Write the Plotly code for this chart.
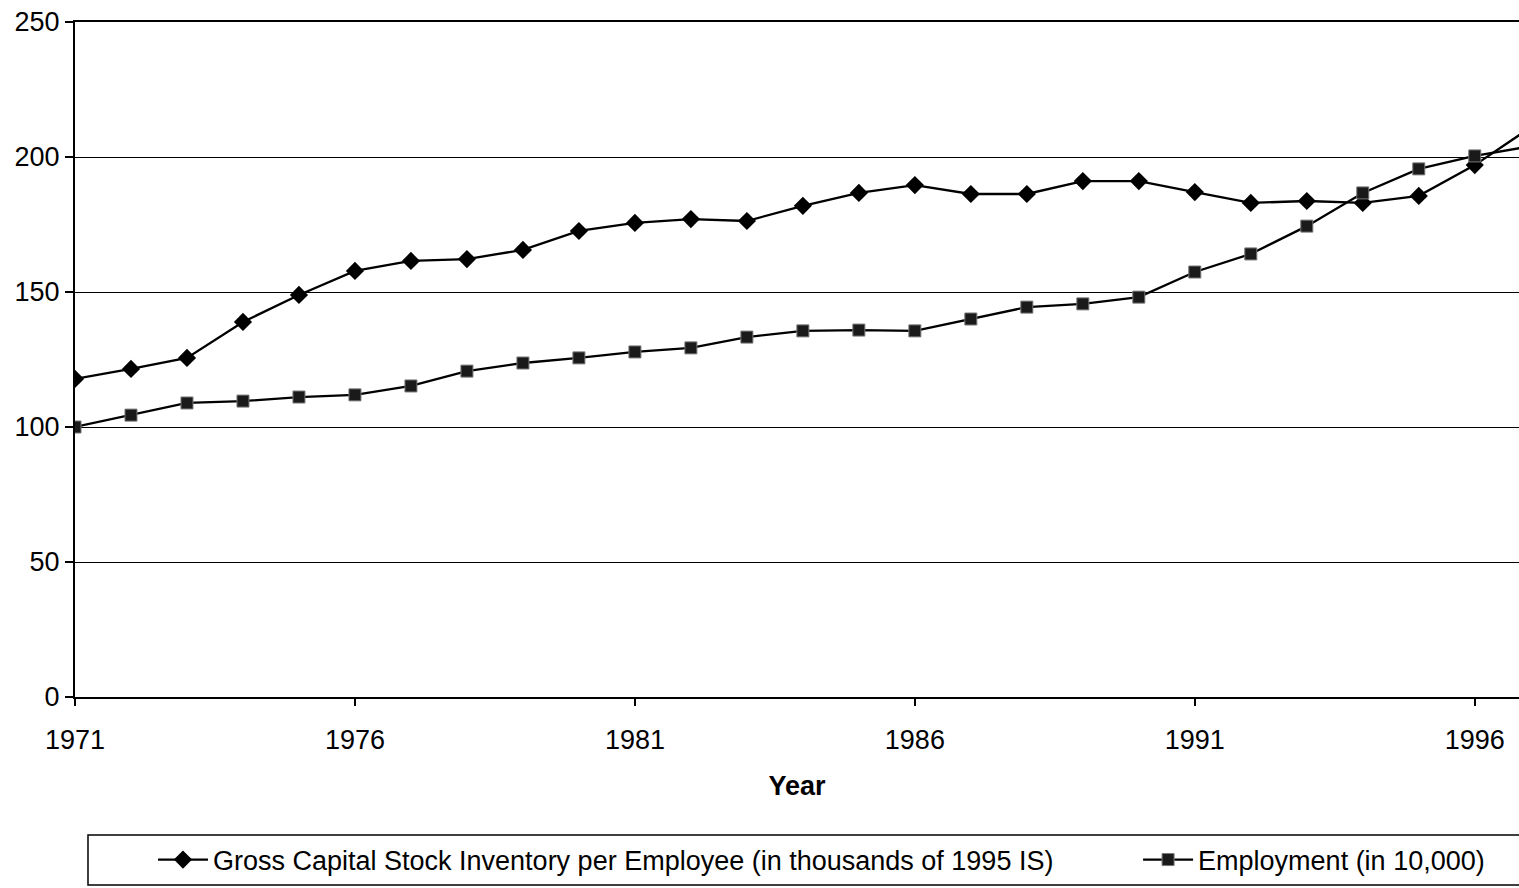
import plotly.graph_objects as go

years = list(range(1971, 1998))
capital = [117.8, 121.5, 125.6, 138.9, 148.9, 157.8, 161.5, 162.2, 165.6, 172.6,
           175.6, 177.0, 176.3, 181.9, 186.7, 189.6, 186.3, 186.3, 191.1, 191.1,
           187.0, 183.0, 183.7, 183.0, 185.6, 197.0, 211.0]
employment = [100.0, 104.4, 108.9, 109.6, 111.1, 111.9, 115.2, 120.7, 123.7, 125.6,
              127.8, 129.3, 133.3, 135.6, 135.9, 135.6, 140.0, 144.4, 145.6, 148.1,
              157.4, 164.1, 174.4, 186.7, 195.6, 200.4, 204.0]
name_cap = "Gross Capital Stock Inventory per Employee (in thousands of 1995 IS)"
name_emp = "Employment (in 10,000)"

font = "Liberation Sans, Arial, sans-serif"
fs = 27

fig = go.Figure()
fig.add_trace(go.Scatter(
    x=years, y=capital, name=name_cap, mode="lines+markers",
    line=dict(color="black", width=2.3),
    marker=dict(symbol="diamond", size=14, color="black"),
    legend="legend",
))
fig.add_trace(go.Scatter(
    x=years, y=employment, name=name_emp, mode="lines+markers",
    line=dict(color="black", width=2.3),
    marker=dict(symbol="square", size=12, color="#1a1a1a", line=dict(color="#777", width=1)),
    legend="legend2",
))

leg_common = dict(orientation="h", yanchor="middle", xanchor="left",
                  font=dict(family=font, size=fs, color="black"),
                  bgcolor="rgba(0,0,0,0)", borderwidth=0, itemwidth=50)

fig.update_layout(
    width=1519, height=888,
    margin=dict(l=75, r=0, t=22, b=191, autoexpand=False),
    paper_bgcolor="white", plot_bgcolor="white",
    font=dict(family=font, size=fs, color="black"),
    showlegend=True,
    legend=dict(x=0.0540, y=-0.2415, **leg_common),
    legend2=dict(x=0.7362, y=-0.2415, **leg_common),
    shapes=[dict(type="rect", xref="paper", yref="paper",
                 x0=0.009, x1=1.02, y0=-0.2785, y1=-0.2044,
                 line=dict(color="black", width=1.5), fillcolor="rgba(0,0,0,0)")],
)

fig.update_xaxes(
    range=[1971, 1996.79], tickmode="array", tickvals=[1971, 1976, 1981, 1986, 1991, 1996],
    ticks="outside", ticklen=7, tickwidth=1.5, tickcolor="black", ticklabelstandoff=11,
    showline=True, linecolor="black", linewidth=2, mirror=True,
    showgrid=False, zeroline=False,
    tickfont=dict(size=fs), title=dict(text="<b>Year</b>", font=dict(size=fs), standoff=22),
)
fig.update_yaxes(
    range=[0, 250], tickvals=[0, 50, 100, 150, 200, 250],
    ticks="outside", ticklen=8, tickwidth=1.5, tickcolor="black",
    showline=True, linecolor="black", linewidth=2,
    showgrid=True, gridcolor="black", gridwidth=1.2, zeroline=False,
    tickfont=dict(size=fs),
)

fig.write_html(
    "out.html",
    config={"displayModeBar": False},
    post_script="document.body.style.margin='0';document.body.style.overflow='hidden';",
)
